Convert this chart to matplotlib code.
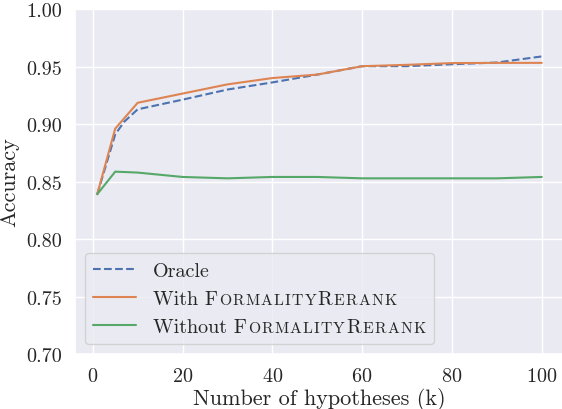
import matplotlib
matplotlib.use('Agg')
import matplotlib.pyplot as plt
import seaborn as sns
from matplotlib.offsetbox import TextArea, HPacker

sns.set_theme(style='darkgrid')
plt.rcParams['font.family'] = 'serif'
plt.rcParams['font.serif'] = ['cmr10']
plt.rcParams['mathtext.fontset'] = 'cm'
plt.rcParams['axes.unicode_minus'] = False
plt.rcParams['axes.formatter.use_mathtext'] = True
FS = 14.5
LABEL_FS = 16

# number of hypotheses
k = [1, 5, 7, 10, 20, 30, 40, 50, 60, 70, 80, 90, 100]
oracle = [0.839, 0.891, 0.902, 0.9128, 0.9212, 0.9300, 0.9362, 0.9430,
          0.9503, 0.9503, 0.9520, 0.9535, 0.9588]
with_rerank = [0.839, 0.896, 0.905, 0.9185, 0.9265, 0.9345, 0.9400, 0.9430,
               0.9503, 0.9515, 0.9530, 0.9532, 0.9532]
without_rerank = [0.839, 0.8586, 0.8583, 0.8578, 0.8540, 0.8528, 0.8540, 0.8540,
                  0.8528, 0.8528, 0.8528, 0.8528, 0.8540]
yticks = [0.70, 0.75, 0.80, 0.85, 0.90, 0.95, 1.00]

fig = plt.figure(figsize=(5.62, 4.10), dpi=100)
ax = fig.add_axes([0.1335, 0.134, 0.870, 0.8415])

ax.plot(k, oracle, '--', color='#4C72B0', lw=1.5, label='Oracle')
ax.plot(k, with_rerank, '-', color='#DD8452', lw=1.5, label='With FormalityRerank')
ax.plot(k, without_rerank, '-', color='#55A868', lw=1.5, label='Without FormalityRerank')

ax.set_ylim(0.70, 1.00)
ax.set_yticks(yticks)
ax.set_yticklabels(['%.2f' % t for t in yticks])
ax.set_xticks([0, 20, 40, 60, 80, 100])
ax.tick_params(labelsize=FS)
ax.set_xlabel('Number of hypotheses (k)', fontsize=LABEL_FS, labelpad=1)
ax.set_ylabel('Accuracy', fontsize=LABEL_FS, labelpad=5)

leg = ax.legend(loc='lower left', fontsize=FS, handlelength=2.15)

# fake small caps for the method name, one letter at a time
def smallcaps(prefix):
    pieces = [(prefix + 'F', FS)] + [(c, FS * 0.78) for c in 'ORMALITY'] \
        + [('R', FS)] + [(c, FS * 0.78) for c in 'ERANK']
    areas = []
    for s, sz in pieces:
        ta = TextArea(s, textprops=dict(fontsize=sz, color='0.15'))
        ta.set_figure(fig)
        ta._text.set_figure(fig)
        areas.append(ta)
    hp = HPacker(children=areas, align='baseline', pad=0, sep=0.9)
    hp.set_figure(fig)
    return hp

items = leg._legend_handle_box.get_children()[0].get_children()
items[1]._children[1] = smallcaps('With ')
items[2]._children[1] = smallcaps('Without ')

fig.savefig('out.png', dpi=100)
